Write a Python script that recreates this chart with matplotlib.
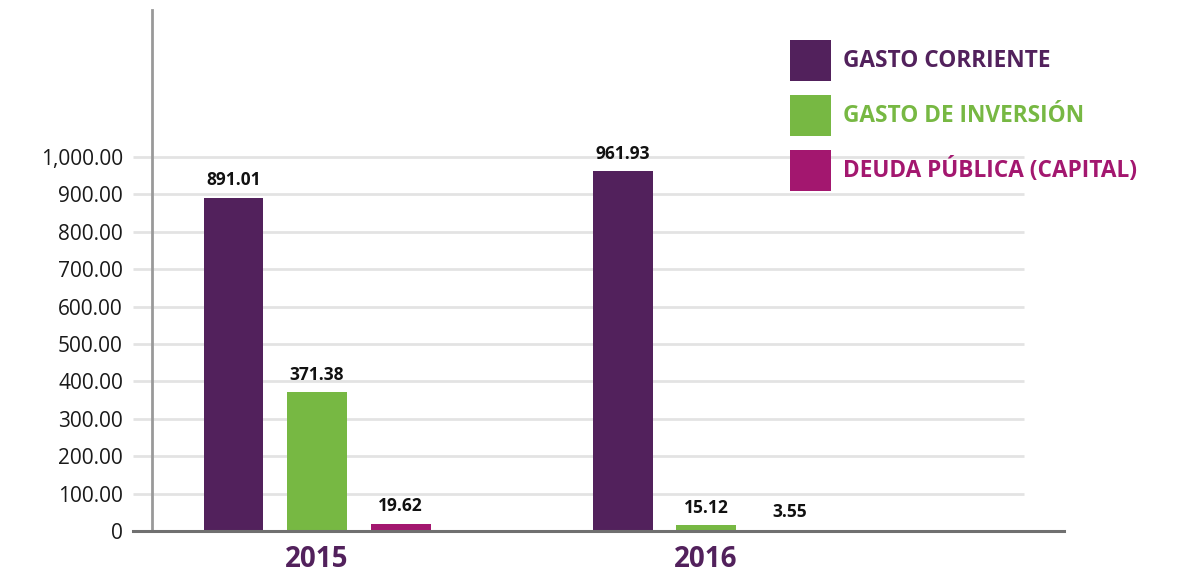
import numpy as np
import matplotlib
matplotlib.use('Agg')
from matplotlib import pyplot as plt

plt.rcParams['font.family'] = ['Open Sans', 'DejaVu Sans']

years = ['2015', '2016']
series = ['GASTO CORRIENTE', 'GASTO DE INVERSIÓN', 'DEUDA PÚBLICA (CAPITAL)']
corriente = [891.01, 961.93]
inversion = [371.38, 15.12]
deuda = [19.62, 3.55]
colors = ['#52215c', '#77b843', '#a3176f']
yticks = [0, 100, 200, 300, 400, 500, 600, 700, 800, 900, 1000]
ytick_labels = ['0', '100.00', '200.00', '300.00', '400.00', '500.00',
                '600.00', '700.00', '800.00', '900.00', '1,000.00']

W, H = 1180, 575
fig = plt.figure(figsize=(W / 100, H / 100), dpi=100)
ax = fig.add_axes([133 / W, 44 / H, (1064 - 133) / W, (575 - 44 - 10) / H])

x = np.arange(len(years))
off = 0.2147
bw = 0.154
handles = []
for i, (vals, c) in enumerate(zip([corriente, inversion, deuda], colors)):
    b = ax.bar(x + (i - 1) * off, vals, bw, color=c, label=series[i], zorder=3)
    handles.append(b)
    for xi, v in zip(x + (i - 1) * off, vals):
        ax.annotate(f'{v:,.2f}', (xi, v), xytext=(0, 6), textcoords='offset points',
                    ha='center', va='bottom', fontsize=12.5, fontweight='bold',
                    color='#111111', zorder=4)

ax.set_xlim(-0.473, 1.920)
ax.set_ylim(0, 1393)

# gridlines (stop before right end of axis)
ax.hlines(yticks[1:], -0.473, 1.817, colors='#e3e3e3', linewidth=2, zorder=1)

for s in ['top', 'right']:
    ax.spines[s].set_visible(False)
ax.spines['left'].set_position(('data', -0.424))
ax.spines['left'].set_color('#999999')
ax.spines['left'].set_linewidth(2)
ax.spines['bottom'].set_color('#707070')
ax.spines['bottom'].set_linewidth(2.2)
ax.spines['bottom'].set_zorder(5)

ax.set_yticks(yticks)
ax.set_yticklabels(ytick_labels)
ax.tick_params(axis='y', length=0, pad=21, labelsize=15, labelcolor='#1a1a1a')
ax.set_xticks(x)
ax.set_xticklabels(years)
ax.tick_params(axis='x', length=0, pad=10, labelsize=20, labelcolor=colors[0])
for t in ax.get_xticklabels():
    t.set_fontweight('bold')

# legend: squares ~41px, row pitch ~55px
fs = 16.3
fs_px = fs * 100 / 72
hh = (41 / fs_px - 0.245) / 0.65
leg = ax.legend(handles=handles, loc='upper left', bbox_to_anchor=(790 / W, 1 - 40 / H),
                bbox_transform=fig.transFigure, frameon=False, borderpad=0,
                borderaxespad=0, handlelength=41 / fs_px, handleheight=hh,
                labelspacing=14 / fs_px, handletextpad=12 / fs_px,
                prop={'weight': 'bold', 'size': fs}, labelcolor=colors)

fig.savefig('out.png', dpi=100)
